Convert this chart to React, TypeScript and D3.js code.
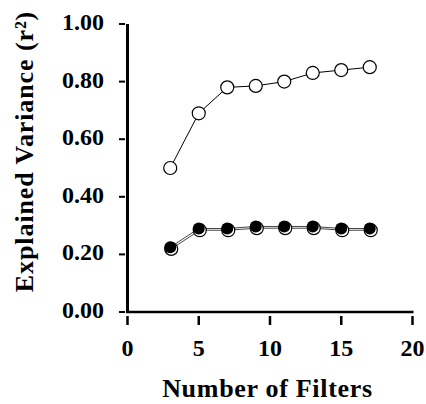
import React from "react";
import * as d3 from "d3";

// number of filters on the x axis
const filters = [3, 5, 7, 9, 11, 13, 15, 17];
// upper series (open circles)
const openValues = [0.5, 0.69, 0.78, 0.785, 0.8, 0.83, 0.84, 0.85];
// lower series (filled circles) and the ring peeking out behind them
const filledValues = [0.225, 0.29, 0.29, 0.297, 0.297, 0.297, 0.29, 0.29];
const ringValues = [0.219, 0.284, 0.284, 0.291, 0.291, 0.291, 0.284, 0.284];

const xTicks = [0, 5, 10, 15, 20];
const yTicks = [0, 0.2, 0.4, 0.6, 0.8, 1.0];

const W = 426, H = 404;
const font = "'Liberation Serif', Tinos, 'Noto Serif', 'DejaVu Serif', 'Times New Roman', FreeSerif, Georgia, serif";

export default function App() {
  const x = d3.scaleLinear().domain([0, 20]).range([127.5, 412.5]);
  const y = d3.scaleLinear().domain([0, 1]).range([312, 24]);

  const line = d3.line<number>()
    .x((d, i) => x(filters[i]))
    .y((d) => y(d));

  return (
    <svg width={W} height={H} style={{ position: "absolute", left: 0, top: 0, background: "#fff" }}>
      {/* axes */}
      <line x1={127.5} x2={127.5} y1={y(1)} y2={y(0) + 1} stroke="#000" strokeWidth={3} />
      <line x1={126} x2={x(20) + 1} y1={312} y2={312} stroke="#000" strokeWidth={2.5} />
      {yTicks.map((t) => (
        <g key={"y" + t}>
          <line x1={119} x2={125} y1={y(t)} y2={y(t)} stroke="#000" strokeWidth={2} />
          <text x={104} y={y(t) + 6} textAnchor="end" style={{ fontFamily: font }} fontWeight="bold" fontSize={24}>
            {d3.format(".2f")(t)}
          </text>
        </g>
      ))}
      {xTicks.map((t) => (
        <g key={"x" + t}>
          <line x1={x(t)} x2={x(t)} y1={316} y2={325} stroke="#000" strokeWidth={2.5} />
          <text x={x(t)} y={356} textAnchor="middle" style={{ fontFamily: font }} fontWeight="bold" fontSize={24}>
            {t}
          </text>
        </g>
      ))}
      <text x={267.5} y={397} textAnchor="middle" style={{ fontFamily: font }} fontWeight="bold" fontSize={26} letterSpacing={0.7}>
        Number of Filters
      </text>
      <text transform="translate(33,151.5) rotate(-90)" textAnchor="middle" style={{ fontFamily: font }} fontWeight="bold" fontSize={26} letterSpacing={0.9}>
        Explained Variance (r²)
      </text>

      {/* lower series */}
      <g transform="translate(1,0)">
        <path d={line(ringValues) || ""} fill="none" stroke="#444" strokeWidth={1} />
      </g>
      <path d={line(filledValues) || ""} fill="none" stroke="#444" strokeWidth={1} />
      <g transform="translate(1,0)">
        {ringValues.map((v, i) => (
          <circle key={"r" + i} cx={x(filters[i])} cy={y(v)} r={6.5} fill="#fff" stroke="#000" strokeWidth={1.2} />
        ))}
      </g>
      {filledValues.map((v, i) => (
        <circle key={"f" + i} cx={x(filters[i])} cy={y(v)} r={6} fill="#000" />
      ))}

      {/* upper series */}
      <path d={line(openValues) || ""} fill="none" stroke="#000" strokeWidth={1} />
      {openValues.map((v, i) => (
        <circle key={"o" + i} cx={x(filters[i])} cy={y(v)} r={6.5} fill="#fff" stroke="#000" strokeWidth={1.2} />
      ))}
    </svg>
  );
}
